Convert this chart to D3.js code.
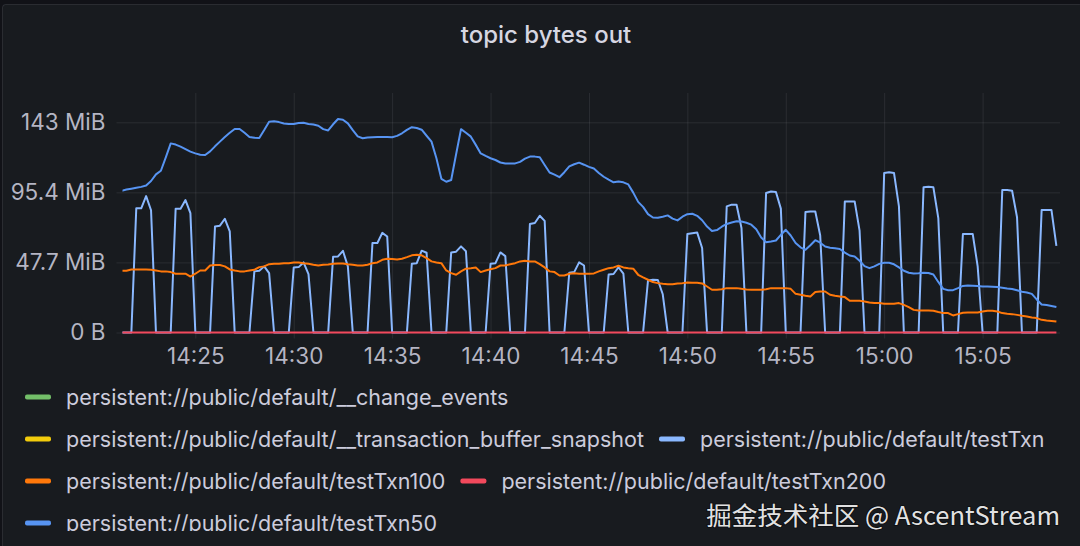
<!DOCTYPE html>
<html>
<head>
<meta charset="utf-8">
<script src="https://cdn.jsdelivr.net/npm/d3@7"></script>
<style>
  body { margin: 0; background: #111217; }
  svg { display: block; font-family: Inter, "Noto Sans", sans-serif; }
</style>
</head>
<body>
<div id="chart"></div>
<script>
// Sample times: one point every 15s
var startTime = new Date(2023, 0, 1, 14, 21, 15);
var stepSeconds = 15;

// Series values in MiB
var testTxn50 = [
  96.4, 97.3, 97.9, 98.5, 99.1, 100.1, 103.1, 107.6, 110.1, 119.2,
  128.7, 127.9, 126.5, 124.8, 123.1, 121.9, 121.0, 120.8, 123.3, 126.7,
  129.9, 133.0, 135.9, 138.5, 138.5, 135.9, 133.1, 132.5, 132.4, 137.8,
  143.5, 143.7, 143.2, 142.3, 141.9, 141.9, 142.6, 142.8, 141.9, 141.5,
  140.7, 138.4, 137.5, 141.7, 145.3, 144.8, 142.3, 137.7, 133.5, 132.2,
  132.7, 132.9, 133.0, 133.1, 133.0, 132.9, 133.8, 135.6, 137.9, 139.7,
  139.2, 138.0, 133.9, 129.9, 118.6, 104.6, 102.6, 103.8, 121.3, 138.4,
  135.9, 133.3, 127.7, 121.9, 120.2, 118.6, 117.4, 115.7, 115.0, 115.0,
  115.1, 116.1, 118.3, 119.7, 119.7, 119.3, 114.0, 108.9, 107.4, 105.7,
  109.1, 113.1, 114.5, 115.6, 114.2, 112.7, 111.6, 108.6, 106.0, 104.0,
  102.2, 102.7, 102.2, 100.8, 95.2, 88.9, 85.5, 80.6, 78.3, 78.1,
  78.8, 79.7, 77.5, 76.3, 78.8, 80.5, 80.8, 79.4, 76.4, 72.1,
  69.1, 69.7, 72.0, 73.9, 74.9, 75.7, 75.5, 74.7, 73.4, 70.3,
  64.6, 61.5, 62.0, 62.6, 66.5, 69.9, 66.0, 60.9, 58.0, 56.3,
  59.4, 62.8, 61.1, 58.5, 57.7, 57.3, 56.8, 54.4, 52.4, 51.7,
  48.8, 45.2, 43.8, 45.0, 46.7, 47.5, 47.5, 46.4, 44.3, 42.0,
  40.7, 40.1, 40.3, 40.6, 40.5, 39.5, 34.4, 29.7, 28.8, 28.8,
  30.2, 31.7, 32.0, 31.9, 31.6, 31.3, 31.3, 31.2, 30.9, 30.5,
  30.0, 29.6, 28.7, 27.7, 27.2, 26.3, 22.5, 19.1, 18.7, 18.0,
  17.3
];

var testTxn100 = [
  42.0, 42.0, 42.9, 42.9, 42.9, 42.9, 42.7, 42.2, 41.6, 41.6,
  41.1, 40.0, 40.0, 40.0, 38.1, 40.0, 42.2, 42.2, 45.6, 45.9,
  45.9, 45.0, 42.9, 42.2, 41.6, 41.6, 42.2, 42.7, 44.5, 45.0,
  46.5, 46.8, 46.8, 47.2, 47.2, 47.7, 47.7, 47.2, 46.8, 46.1,
  45.6, 46.1, 46.3, 46.8, 47.0, 47.0, 46.5, 46.1, 45.6, 45.6,
  46.1, 47.2, 47.7, 49.5, 50.2, 50.0, 49.7, 50.2, 51.3, 52.5,
  52.9, 52.5, 50.6, 48.4, 47.7, 47.2, 42.2, 40.4, 39.3, 41.6,
  43.4, 43.8, 44.3, 41.1, 42.2, 43.1, 43.8, 45.6, 45.6, 46.5,
  47.2, 48.4, 48.8, 48.4, 48.4, 46.5, 44.3, 41.6, 41.1, 38.8,
  38.8, 40.0, 40.4, 40.0, 40.0, 40.0, 40.2, 41.6, 42.7, 43.8,
  44.3, 45.4, 44.3, 43.8, 43.4, 39.3, 37.5, 35.9, 34.3, 33.6,
  33.2, 32.9, 32.9, 33.4, 33.6, 34.1, 33.8, 33.8, 33.4, 31.3,
  29.1, 29.1, 29.5, 30.2, 30.2, 30.2, 29.7, 29.3, 29.1, 29.1,
  29.1, 29.5, 30.2, 30.2, 30.2, 30.2, 29.7, 26.3, 25.7, 25.0,
  24.5, 27.5, 27.9, 27.9, 25.7, 25.0, 24.5, 24.1, 21.6, 21.6,
  21.6, 21.1, 20.4, 20.0, 20.0, 19.5, 19.5, 19.5, 20.0, 18.8,
  17.3, 15.4, 15.0, 15.0, 15.0, 14.8, 13.9, 13.2, 13.2, 11.6,
  12.5, 13.4, 13.6, 13.6, 13.6, 14.3, 14.8, 14.8, 14.3, 13.2,
  12.7, 12.5, 12.0, 11.4, 10.9, 10.2, 9.8, 8.6, 8.2, 7.9,
  7.5
];

// one row per 2 minute burst
var testTxn = [
  0, 0, 0, 84.5, 84.5, 92.8, 83.2, 0,
  0, 0, 0, 84.2, 84.2, 90.1, 81.3, 0,
  0, 0, 0, 72.2, 72.7, 77.4, 68.8, 0,
  0, 0, 0, 41.6, 42.0, 45.0, 40.4, 0,
  0, 0, 0, 44.3, 44.5, 47.7, 39.7, 0,
  0, 0, 0, 51.5, 51.8, 55.6, 45.0, 0,
  0, 0, 0, 60.9, 60.9, 67.8, 65.3, 0,
  0, 0, 0, 46.8, 47.2, 55.7, 54.3, 0,
  0, 0, 0, 54.5, 55.0, 58.6, 55.3, 0,
  0, 0, 0, 46.8, 47.2, 54.5, 52.0, 0,
  0, 0, 0, 73.8, 74.5, 79.5, 76.0, 0,
  0, 0, 0, 40.6, 41.1, 47.7, 45.6, 0,
  0, 0, 0, 39.5, 39.8, 44.4, 40.0, 0,
  0, 0, 0, 35.4, 35.9, 35.7, 26.0, 0,
  0, 0, 0, 67.0, 67.5, 68.0, 57.5, 0,
  0, 0, 0, 85.8, 87.0, 87.0, 71.1, 0,
  0, 0, 0, 94.9, 96.0, 95.6, 84.3, 0,
  0, 0, 0, 82.0, 82.4, 82.4, 66.0, 0,
  0, 0, 0, 89.2, 89.2, 89.2, 69.3, 0,
  0, 0, 0, 108.5, 109.0, 108.5, 85.8, 0,
  0, 0, 0, 98.8, 99.2, 98.8, 77.9, 0,
  0, 0, 0, 67.0, 67.0, 67.0, 45.0, 0,
  0, 0, 0, 97.0, 97.0, 96.5, 78.4, 0,
  0, 0, 0, 83.3, 83.3, 83.3, 59.0
];

var testTxn200 = [
  0, 0, 0, 0, 0, 0, 0, 0, 0, 0, 0, 0, 0, 0, 0, 0, 0, 0, 0, 0,
  0, 0, 0, 0, 0, 0, 0, 0, 0, 0, 0, 0, 0, 0, 0, 0, 0, 0, 0, 0,
  0, 0, 0, 0, 0, 0, 0, 0, 0, 0, 0, 0, 0, 0, 0, 0, 0, 0, 0, 0,
  0, 0, 0, 0, 0, 0, 0, 0, 0, 0, 0, 0, 0, 0, 0, 0, 0, 0, 0, 0,
  0, 0, 0, 0, 0, 0, 0, 0, 0, 0, 0, 0, 0, 0, 0, 0, 0, 0, 0, 0,
  0, 0, 0, 0, 0, 0, 0, 0, 0, 0, 0, 0, 0, 0, 0, 0, 0, 0, 0, 0,
  0, 0, 0, 0, 0, 0, 0, 0, 0, 0, 0, 0, 0, 0, 0, 0, 0, 0, 0, 0,
  0, 0, 0, 0, 0, 0, 0, 0, 0, 0, 0, 0, 0, 0, 0, 0, 0, 0, 0, 0,
  0, 0, 0, 0, 0, 0, 0, 0, 0, 0, 0, 0, 0, 0, 0, 0, 0, 0, 0, 0,
  0, 0, 0, 0, 0, 0, 0, 0, 0, 0, 0
];

var seriesNames = [
  'persistent://public/default/__change_events',
  'persistent://public/default/__transaction_buffer_snapshot',
  'persistent://public/default/testTxn',
  'persistent://public/default/testTxn100',
  'persistent://public/default/testTxn200',
  'persistent://public/default/testTxn50'
];
var seriesColors = ['#73BF69', '#F2CC0C', '#8AB8FF', '#FF780A', '#F2495C', '#5794F2'];
var seriesValues = [null, null, testTxn, testTxn100, testTxn200, testTxn50];

// y ticks in bytes
var yTickBytes = [0, 50e6, 100e6, 150e6];
var yTickLabels = ['0 B', '47.7 MiB', '95.4 MiB', '143 MiB'];

var legendRows = [[0], [1, 2], [3, 4], [5]];

var width = 1080, height = 546;
var plot = {left: 122.5, right: 1060, top: 93, bottom: 332.5};
var gridColor = 'rgba(204,204,220,0.1)';
var textColor = 'rgb(204,204,220)';

var svg = d3.select('#chart').append('svg')
  .attr('width', width)
  .attr('height', height);

// Panel
svg.append('rect')
  .attr('x', 2.5).attr('y', 4.5)
  .attr('width', width).attr('height', height + 20)
  .attr('rx', 3)
  .attr('fill', '#181b1f')
  .attr('stroke', 'rgba(204,204,220,0.12)');

svg.append('text')
  .attr('x', 546).attr('y', 43)
  .attr('text-anchor', 'middle')
  .attr('fill', 'rgb(214,214,226)')
  .style('font-size', '24px')
  .style('font-weight', 500)
  .text('topic bytes out');

var times = testTxn50.map(function(d, i) {
  return new Date(startTime.getTime() + i * stepSeconds * 1000);
});

var x = d3.scaleTime()
  .domain([new Date(2023, 0, 1, 14, 21, 18), new Date(2023, 0, 1, 15, 8, 56)])
  .range([plot.left, plot.right]);

var y = d3.scaleLinear()
  .domain([0, 163])
  .range([plot.bottom, plot.top]);

// Y axis + horizontal grid
var yAxis = svg.append('g')
  .attr('transform', 'translate(116.5,0)')
  .call(d3.axisLeft(y)
    .tickValues(yTickBytes.map(function(b) { return b / 1048576; }))
    .tickFormat(function(d, i) { return yTickLabels[i]; })
    .tickSize(-(plot.right - 116.5))
    .tickPadding(11));

// X axis + vertical grid
var xAxis = svg.append('g')
  .attr('transform', 'translate(0,' + (plot.bottom + 6) + ')')
  .call(d3.axisBottom(x)
    .ticks(d3.timeMinute.every(5))
    .tickFormat(d3.timeFormat('%H:%M'))
    .tickSize(-(plot.bottom + 6 - plot.top))
    .tickPadding(10));

[yAxis, xAxis].forEach(function(g) {
  g.select('.domain').remove();
  g.selectAll('line').attr('stroke', gridColor);
  g.selectAll('text')
    .attr('fill', 'rgba(204,204,220,0.88)')
    .style('font-family', 'Inter, sans-serif')
    .style('font-size', '22.5px');
});

// Clip for lines
svg.append('clipPath').attr('id', 'plot-clip')
  .append('rect')
  .attr('x', plot.left).attr('y', plot.top - 5)
  .attr('width', plot.right - plot.left)
  .attr('height', plot.bottom - plot.top + 9);

var line = d3.line()
  .x(function(d, i) { return x(times[i]); })
  .y(function(d) { return y(d); });

var lines = svg.append('g').attr('clip-path', 'url(#plot-clip)');

seriesValues.forEach(function(values, k) {
  if (!values) return;
  lines.append('path')
    .datum(values)
    .attr('fill', 'none')
    .attr('stroke', seriesColors[k])
    .attr('stroke-width', 2)
    .attr('stroke-linejoin', 'round')
    .attr('d', line);
});

// Legend
var legend = svg.append('g');
svg.append('clipPath').attr('id', 'legend-clip')
  .append('rect').attr('x', 0).attr('y', 370).attr('width', width).attr('height', 161);
legend.attr('clip-path', 'url(#legend-clip)');

var rowY = [397, 439, 481, 523];
legendRows.forEach(function(row, r) {
  var cx = 25;
  row.forEach(function(k) {
    legend.append('rect')
      .attr('x', cx).attr('y', rowY[r] - 2.5)
      .attr('width', 26).attr('height', 5)
      .attr('rx', 2)
      .attr('fill', seriesColors[k]);
    var t = legend.append('text')
      .attr('x', cx + 41).attr('y', rowY[r] + 7.5)
      .attr('fill', textColor)
      .style('font-size', '21.5px')
      .text(seriesNames[k]);
    cx = cx + 41 + t.node().getComputedTextLength() + 15;
  });
});

// Watermark
svg.append('text')
  .attr('x', 1060).attr('y', 525)
  .attr('text-anchor', 'end')
  .attr('fill', 'rgba(255,255,255,0.9)')
  .style('font-family', '"Noto Sans CJK SC", sans-serif')
  .style('font-size', '25.5px')
  .style('paint-order', 'stroke')
  .style('stroke', 'rgba(0,0,0,0.35)')
  .style('stroke-width', '2px')
  .text('掘金技术社区 @ AscentStream');
</script>
</body>
</html>
